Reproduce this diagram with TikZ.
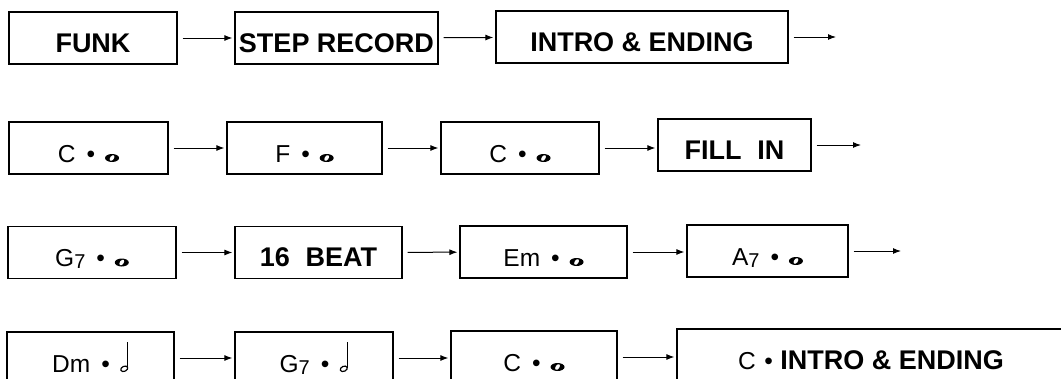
\documentclass[tikz,border=0pt]{standalone}
\usepackage{fontspec}
\setmainfont{Liberation Sans}
\usepackage{tikz}
\usetikzlibrary{arrows.meta}

% small note glyphs drawn in place
\newcommand{\wholenote}{\tikz[baseline=0pt, x=1pt, y=1pt]{%
  \fill (7,4) ellipse [x radius=7, y radius=4];
  \fill[white, rotate around={-35:(7,4)}] (7,4) ellipse [x radius=1.9, y radius=3.2];}}
\newcommand{\halfnote}{\tikz[baseline=0pt, x=1pt, y=1pt]{%
  \draw[line width=1.2pt, rotate around={25:(3.8,3.2)}] (3.8,3.2) ellipse [x radius=3.7, y radius=2.5];
  \draw[line width=1.1pt] (7.3,3.8) -- (7.3,30);}}
\newcommand{\chd}[2]{#1\hspace{.45em}\textbullet\hspace{.4em}#2}
\newcommand{\sevn}{{\fontsize{20}{20}\selectfont\raisebox{-2pt}{7}}}

\begin{document}
\begin{tikzpicture}[
  x=1pt, y=-1pt,
  box/.style={draw, line width=1.2pt, minimum height=52pt, inner sep=0pt, text height=28pt, text depth=0pt, align=center},
  word/.style={box, font=\fontsize{27}{30}\selectfont\bfseries},
  chord/.style={box, font=\fontsize{24.5}{27}\selectfont},
  link/.style={->, line width=1pt, shorten <=5pt, shorten >=2pt},
  >={Latex[length=8pt, width=6pt]}
]
\useasboundingbox (0,0) rectangle (1061,378);
\clip (0,0) rectangle (1061,378);

% row 1
\node[word, minimum width=168pt] (funk)  at (93,38)    {FUNK};
\node[word, minimum width=203pt] (steprec) at (336.5,38) {STEP RECORD};
\node[word, minimum width=292pt] (intro) at (642,37)   {INTRO \& ENDING};
\coordinate (introout) at (838,37);

% row 2
\node[chord, minimum width=159pt] (cone)  at (88.5,148) {\chd{C}{\wholenote}};
\node[chord, minimum width=155pt] (fone)  at (304.5,148) {\chd{F}{\wholenote}};
\node[chord, minimum width=158pt] (ctwo)  at (520,148)  {\chd{C}{\wholenote}};
\node[word,  minimum width=153pt] (fillin) at (734.5,145) {FILL\hspace{.3em} IN};
\coordinate (fillout) at (863,145);

% row 3
\node[chord, minimum width=168pt] (gone)  at (92,252.5)  {\chd{G\sevn}{\wholenote}};
\node[word,  minimum width=167pt] (beat)  at (318.5,252.5) {16\hspace{.3em} BEAT};
\node[chord, minimum width=167pt] (emone) at (543.5,252)  {\chd{Em}{\wholenote}};
\node[chord, minimum width=161pt] (aone)  at (767.5,251)  {\chd{A\sevn}{\wholenote}};
\coordinate (aout) at (903,251);

% row 4
\node[chord, minimum width=167pt] (dmone) at (90.5,358) {\chd{Dm}{\halfnote}};
\node[chord, minimum width=158pt] (gtwo)  at (314,358)  {\chd{G\sevn}{\halfnote}};
\node[chord, minimum width=166pt] (cthree) at (534,357) {\chd{C}{\wholenote}};
\node[chord, minimum width=388pt] (cintro) at (871,355) {C\hspace{.35em}\textbullet\hspace{.3em}\textbf{\fontsize{27}{30}\selectfont INTRO \& ENDING}};

\draw[link] (funk) -- (steprec);
\draw[link] (steprec) -- (intro);
\draw[link] (intro) -- (introout);
\draw[link] (cone) -- (fone);
\draw[link] (fone) -- (ctwo);
\draw[link] (ctwo.east) -- (fillin.west |- ctwo.east);
\draw[link] (fillin) -- (fillout);
\draw[link] (gone) -- (beat);
\draw[link] (beat) -- (emone);
\draw[link] (emone) -- (emone -| aone.west);
\draw[link] (aone) -- (aout);
\draw[link] (dmone) -- (gtwo);
\draw[link] (gtwo.east) -- (cthree.west |- gtwo.east);
\draw[link] (cthree.east) -- (cintro.west |- cthree.east);
\end{tikzpicture}
\end{document}
